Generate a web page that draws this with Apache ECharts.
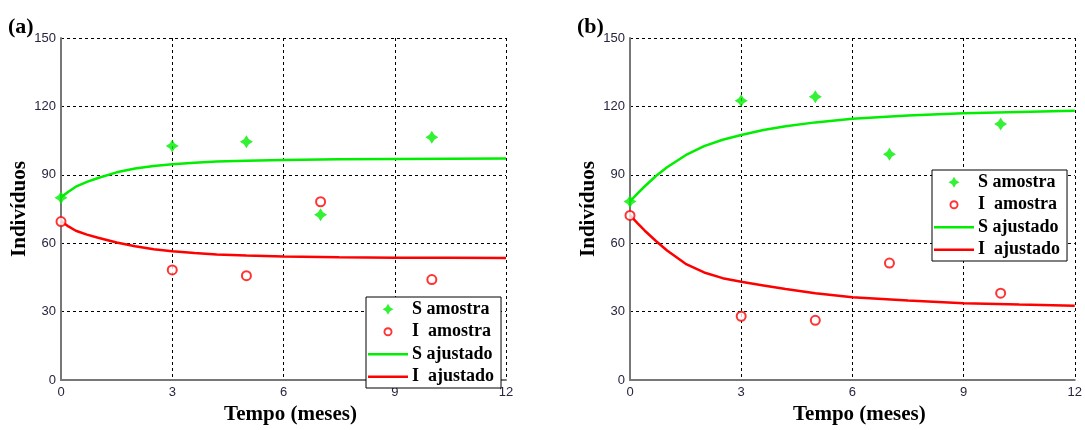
<!DOCTYPE html>
<html>
<head>
<meta charset="utf-8">
<script src="https://cdn.jsdelivr.net/npm/echarts@6/dist/echarts.min.js"></script>
<style>
  html, body { margin: 0; padding: 0; background: #fff; }
  #chart { width: 1085px; height: 430px; }
</style>
</head>
<body>
<div id="chart"></div>
<script>
// Sampling months and observed counts
const sampleTime = [0, 3, 5, 7, 10];
const aSSample = [80, 102.6, 104.5, 72.5, 106.5];
const aISample = [69.5, 48.3, 45.8, 78.2, 44.1];
const bSSample = [78.3, 122.5, 124.2, 99, 112.3];
const bISample = [72.2, 28, 26.2, 51.3, 38.1];

// Fitted curves
const fitTime = [0, 0.2, 0.4, 0.7, 1, 1.5, 2, 2.5, 3, 3.6, 4.2, 5, 6, 7.5, 9, 10.5, 12];
const aSFit = [80.2, 82.6, 84.8, 86.9, 88.6, 91.1, 92.8, 93.9, 94.6, 95.3, 95.8, 96.2, 96.5, 96.8, 97.0, 97.1, 97.2];
const aIFit = [69.8, 67.4, 65.5, 63.8, 62.4, 60.3, 58.7, 57.4, 56.5, 55.7, 55.1, 54.6, 54.2, 53.9, 53.7, 53.6, 53.5];
const bSFit = [78.3, 81.8, 85.0, 89.5, 93.3, 98.6, 102.6, 105.4, 107.5, 109.7, 111.3, 113.0, 114.6, 116.0, 117.0, 117.6, 118.1];
const bIFit = [72.3, 68.8, 65.5, 61.0, 56.8, 51.0, 47.2, 44.7, 43.1, 41.5, 39.9, 38.1, 36.3, 34.9, 33.7, 33.1, 32.6];

const seriesNames = ['S amostra', 'I  amostra', 'S ajustado', 'I  ajustado'];
const panelLabels = ['(a)', '(b)'];
const xTitle = 'Tempo (meses)';
const yTitle = 'Indivíduos';

const GREEN = '#00ee00';
const RED = '#ff0000';
const STAR = 'path://M0,-6 L2.3,-2.3 L6,0 L2.3,2.3 L0,6 L-2.3,2.3 L-6,0 L-2.3,-2.3 Z';
// Legend icons padded to their slot with tiny corner anchors
const LEGEND_STAR = 'path://M0,0 L0.01,0 L0,0.01 Z M12,12 L11.99,12 L12,11.99 Z M6,0.5 L8,4 L11.5,6 L8,8 L6,11.5 L4,8 L0.5,6 L4,4 Z';
const LEGEND_RING = 'path://M0,0 L0.01,0 L0,0.01 Z M12,12 L11.99,12 L12,11.99 Z M6,1.5 A4.5,4.5 0 0,1 6,10.5 A4.5,4.5 0 0,1 6,1.5 Z M6,3.4 A2.6,2.6 0 0,0 6,8.6 A2.6,2.6 0 0,0 6,3.4 Z';
const LEGEND_LINE = 'path://M0,0 L0.01,0 L0,0.01 Z M40,12 L39.99,12 L40,11.99 Z M0,4.8 L40,4.8 L40,7.2 L0,7.2 Z';
const SERIF = '"Liberation Serif", "Times New Roman", serif';
const SANS = '"Liberation Sans", Arial, sans-serif';

const zip = (xs, ys) => xs.map((x, i) => [x, ys[i]]);

function xAxisFor(idx) {
  return {
    gridIndex: idx, type: 'value', min: 0, max: 12, interval: 3,
    name: xTitle, nameLocation: 'middle', nameGap: 18,
    nameTextStyle: { fontFamily: SERIF, fontWeight: 'bold', fontSize: 21, color: '#000', padding: [0, 0, 0, 14] },
    axisLine: { show: true, onZero: false, lineStyle: { color: '#777', width: 2 } },
    axisTick: { show: false },
    axisLabel: { fontFamily: SANS, fontSize: 13, color: '#262640', margin: 6 },
    splitLine: { show: true, lineStyle: { color: '#000', type: [3, 3], width: 1 } }
  };
}
function yAxisFor(idx) {
  return {
    gridIndex: idx, type: 'value', min: 0, max: 150, interval: 30,
    name: yTitle, nameLocation: 'middle', nameGap: 31, nameRotate: 90,
    nameTextStyle: { fontFamily: SERIF, fontWeight: 'bold', fontSize: 21, color: '#000' },
    axisLine: { show: true, onZero: false, lineStyle: { color: '#777', width: 2 } },
    axisTick: { show: false },
    axisLabel: { fontFamily: SANS, fontSize: 13, color: '#262640', margin: 5 },
    splitLine: { show: true, lineStyle: { color: '#000', type: [3, 3], width: 1 } }
  };
}
function seriesFor(idx, sS, sI, fS, fI) {
  return [
    { name: seriesNames[0], type: 'scatter', xAxisIndex: idx, yAxisIndex: idx, data: zip(sampleTime, sS),
      symbol: STAR, symbolSize: 13, itemStyle: { color: GREEN }, z: 5 },
    { name: seriesNames[1], type: 'scatter', xAxisIndex: idx, yAxisIndex: idx, data: zip(sampleTime, sI),
      symbol: 'circle', symbolSize: 9, itemStyle: { color: '#fff', borderColor: RED, borderWidth: 2 }, z: 5 },
    { name: seriesNames[2], type: 'line', xAxisIndex: idx, yAxisIndex: idx, data: zip(fitTime, fS),
      smooth: false, symbol: 'none', lineStyle: { color: GREEN, width: 2.5 }, itemStyle: { color: GREEN } },
    { name: seriesNames[3], type: 'line', xAxisIndex: idx, yAxisIndex: idx, data: zip(fitTime, fI),
      smooth: false, symbol: 'none', lineStyle: { color: RED, width: 2.5 }, itemStyle: { color: RED } }
  ];
}
function legendAt(left, top) {
  return {
    orient: 'vertical', left: left, top: top,
    itemWidth: 40, itemHeight: 12, itemGap: 4,
    padding: [3, 7, 2, 2],
    backgroundColor: '#fff', borderColor: '#000', borderWidth: 1,
    selectedMode: false,
    textStyle: { fontFamily: SERIF, fontWeight: 'bold', fontSize: 18, lineHeight: 18.5, color: '#000', padding: [0, 0, 0, -1] },
    data: [
      { name: seriesNames[0], icon: LEGEND_STAR, itemStyle: { color: GREEN, borderWidth: 0 } },
      { name: seriesNames[1], icon: LEGEND_RING, itemStyle: { color: RED, borderWidth: 0 } },
      { name: seriesNames[2], icon: LEGEND_LINE, itemStyle: { color: GREEN, borderWidth: 0 } },
      { name: seriesNames[3], icon: LEGEND_LINE, itemStyle: { color: RED, borderWidth: 0 } }
    ]
  };
}

const chart = echarts.init(document.getElementById('chart'), null, { renderer: 'canvas' });
chart.setOption({
  animation: false,
  backgroundColor: '#fff',
  grid: [
    { left: 61, right: 579, top: 38, bottom: 40 },
    { left: 630, right: 9, top: 38, bottom: 40 }
  ],
  xAxis: [xAxisFor(0), xAxisFor(1)],
  yAxis: [yAxisFor(0), yAxisFor(1)],
  legend: [legendAt(366, 297), legendAt(932, 170)],
  graphic: [
    { type: 'text', left: 8, top: 16, style: { text: panelLabels[0], font: 'bold 22px ' + SERIF, fill: '#000' } },
    { type: 'text', left: 577, top: 16, style: { text: panelLabels[1], font: 'bold 22px ' + SERIF, fill: '#000' } }
  ],
  series: [].concat(
    seriesFor(0, aSSample, aISample, aSFit, aIFit),
    seriesFor(1, bSSample, bISample, bSFit, bIFit)
  )
});
</script>
</body>
</html>
